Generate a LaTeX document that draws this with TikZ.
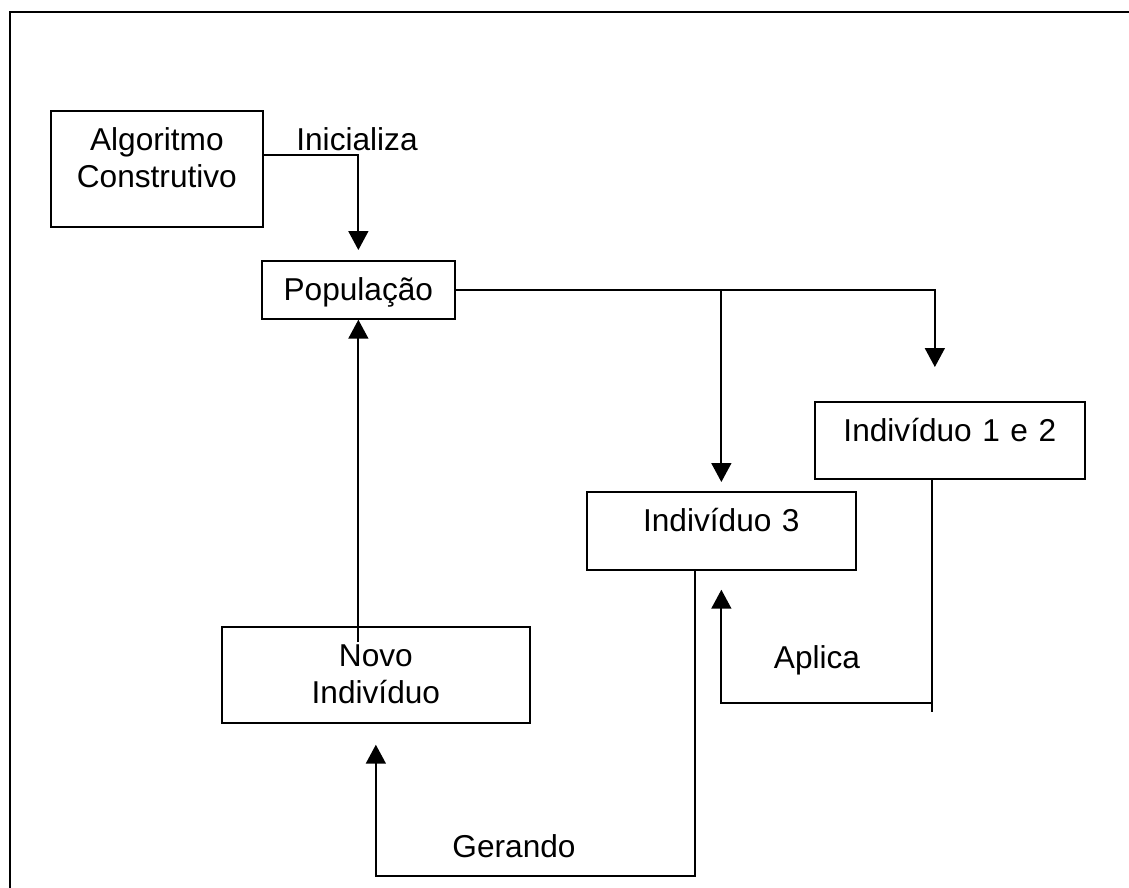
\documentclass[tikz,border=0pt]{standalone}
\usepackage{fontspec}
\setmainfont{Liberation Sans}
\usepackage{tikz}
\usetikzlibrary{arrows.meta,positioning}

\begin{document}
\begin{tikzpicture}[x=0.02cm, y=-0.02cm]
	\tikzstyle{Frame}	= [line width=1.4pt]
	\tikzstyle{Box}		= [draw, line width=1pt, inner sep=0pt, anchor=north west, align=center, text height=0.8cm, font=\fontsize{18pt}{21pt}\selectfont]
	\tikzstyle{Lbl}		= [anchor=base, inner sep=0pt, font=\fontsize{18pt}{21pt}\selectfont]
	\tikzstyle{Link}	= [line width=1pt]
	\tikzstyle{Arrow}	= [Link, -{Triangle[length=0.38cm, width=0.4cm]}]

	\useasboundingbox (0,0) rectangle (1129,888);
	\draw [Frame] (10,12) rectangle (1140,900);

	\node (alg) at (50,110) [Box][text width=4.24cm, text depth=1.52cm] {Algoritmo\\Construtivo};
	\node (pop) at (261,260) [Box][text width=3.86cm, text depth=0.36cm] {População};
	\node (ind12) at (814,401) [Box][text width=5.4cm, text depth=0.74cm] {Indivíduo 1 e 2};
	\node (ind3) at (586,491) [Box][text width=5.38cm, text depth=0.76cm] {Indivíduo 3};
	\node (novo) at (221,626) [Box][text width=6.16cm, text depth=1.12cm] {Novo\\Indivíduo};

	\coordinate (nv) at ([yshift=-0.32cm]novo.north);
	\coordinate (apl) at (932,703);
	\coordinate (ger) at (695,876);

	% inicializa
	\draw [Arrow, shorten >=0.2cm] ([yshift=-0.9cm]alg.north east) -| (pop.north);
	\node (ini) at (357,151) [Lbl] {Inicializa};

	% selecao
	\draw [Arrow, shorten >=0.68cm] (pop.east) -| ([xshift=-0.3cm]ind12.north);
	\draw [Arrow, shorten >=0.18cm] (pop.east -| ind3.north) -- (ind3.north);

	% aplica
	\draw [Link] (ind12.south -| apl) -- ([yshift=-0.18cm]apl);
	\draw [Arrow, shorten >=0.38cm] (apl) -| (ind3.south);
	\node (aplica) at (817,668) [Lbl] {Aplica};

	% gerando
	\draw [Arrow, shorten >=0.42cm] (ind3.south -| ger) -- (ger) -| (novo.south);
	\node (gerando) at (514,857) [Lbl] {Gerando};

	% volta
	\draw [Arrow] (pop.south |- nv) -- (pop.south);
\end{tikzpicture}
\end{document}
